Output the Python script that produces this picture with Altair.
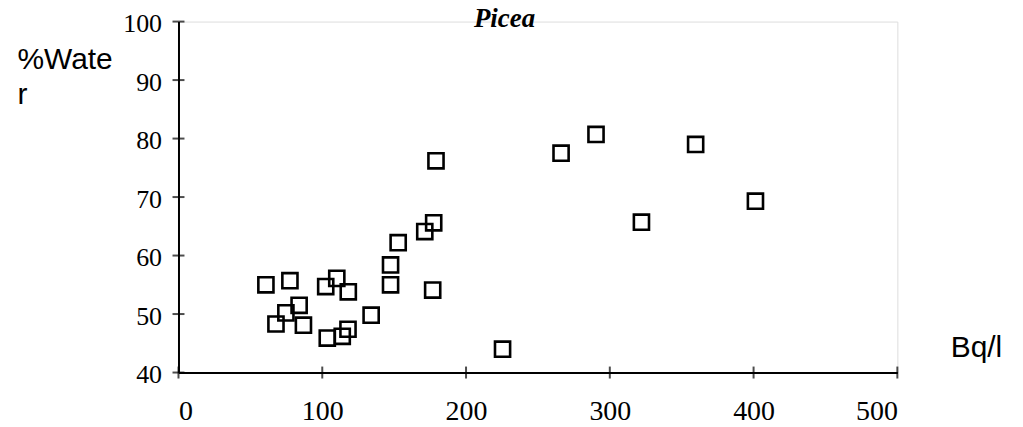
import altair as alt
import pandas as pd

title_text = ["Picea"]
bq = [60.8, 77.5, 102.4, 110.1, 118.1, 147.5, 147.5, 176.8, 83.9, 74.7, 67.8, 86.9,
      134.0, 103.5, 113.9, 117.9, 225.4, 179.1, 177.5, 171.3, 152.8, 266.1, 290.4,
      359.7, 322.0, 401.3]
water = [55.0, 55.7, 54.7, 56.1, 53.8, 58.4, 55.0, 54.1, 51.5, 50.2, 48.3, 48.1,
         49.8, 45.9, 46.2, 47.4, 44.0, 76.2, 65.6, 64.1, 62.2, 77.5, 80.7, 79.0,
         65.7, 69.3]
x_ticks = [0, 100, 200, 300, 400, 500]
y_ticks = [40, 50, 60, 70, 80, 90, 100]

df = pd.DataFrame({"bq": bq, "water": water})
xt = pd.DataFrame({"v": x_ticks, "base": [40] * len(x_ticks)})
yt = pd.DataFrame({"v": y_ticks, "base": [0] * len(y_ticks)})
tt = pd.DataFrame({"t": title_text})

xs = alt.Scale(domain=[0, 500], nice=False, zero=False)
ys = alt.Scale(domain=[40, 100], nice=False, zero=False)

xaxis = alt.Axis(values=x_ticks, ticks=False, grid=False, domainColor="black",
                 domainWidth=2, labelFont="Liberation Serif", labelFontSize=28,
                 labelColor="black", labelPadding=25, title="Bq/l",
                 titleFont="Liberation Sans", titleFontSize=30, titleFontWeight="normal",
                 titleColor="black", titleAlign="left", titleBaseline="alphabetic",
                 titleX=774, titleY=-16, titleAngle=0)
yaxis = alt.Axis(values=y_ticks, ticks=False, grid=False, domainColor="black",
                 domainWidth=2, labelFont="Liberation Serif", labelFontSize=26,
                 labelColor="black", labelPadding=17, labelOffset=2,
                 title=["%Wate", "r"],
                 titleFont="Liberation Sans", titleFontSize=30, titleFontWeight="normal",
                 titleColor="black", titleAlign="left", titleBaseline="alphabetic",
                 titleX=-162, titleY=47, titleAngle=0, titleLineHeight=35)

points = alt.Chart(df).mark_point(shape="square", filled=False, size=230,
                                   strokeWidth=2.6, color="black", opacity=1).encode(
    x=alt.X("bq:Q", scale=xs, axis=xaxis),
    y=alt.Y("water:Q", scale=ys, axis=yaxis),
)

xtick = alt.Chart(xt).mark_tick(orient="vertical", size=12, thickness=2,
                                color="black").encode(
    x=alt.X("v:Q", scale=xs), y=alt.Y("base:Q", scale=ys))
ytick = alt.Chart(yt).mark_tick(orient="horizontal", size=12, thickness=2,
                                color="black").encode(
    x=alt.X("base:Q", scale=xs), y=alt.Y("v:Q", scale=ys))

title_mark = alt.Chart(tt).mark_text(font="Liberation Serif", fontSize=27,
                                     fontStyle="italic", fontWeight="bold",
                                     color="black", align="center",
                                     baseline="alphabetic").encode(
    text="t:N", x=alt.value(327), y=alt.value(5))

chart = alt.layer(points, xtick, ytick, title_mark).properties(
    width=721, height=352,
    autosize=alt.AutoSizeParams(type="none"),
    padding={"left": 171, "top": 13, "right": 118, "bottom": 53},
).configure_view(stroke=None).configure(background="white")

chart.save("out.html", embed_options={"renderer": "svg", "actions": False})
